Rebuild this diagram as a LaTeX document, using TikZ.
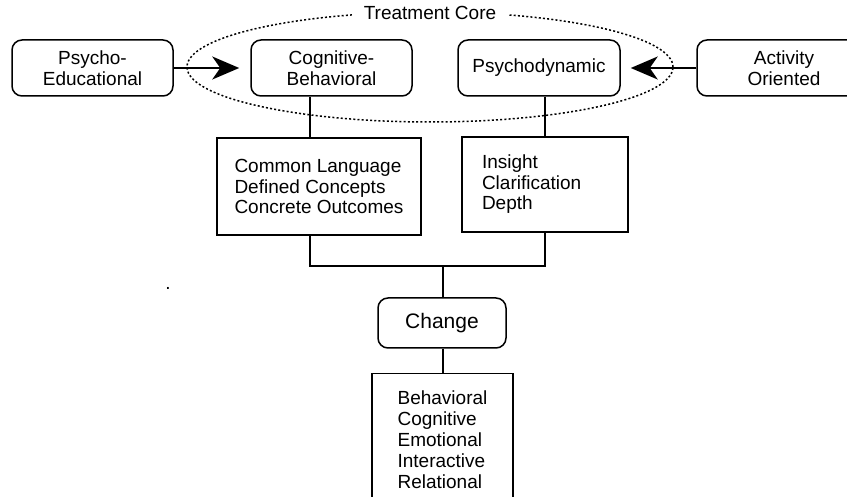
\documentclass[tikz,border=0pt]{standalone}
\usepackage{fontspec}
\setmainfont{Liberation Sans}
\usetikzlibrary{arrows.meta}
\usetikzlibrary{shapes.geometric}

\begin{document}
\begin{tikzpicture}[
    x=1pt, y=-1pt,
    line width=1.5pt,
    every node/.style={
        inner sep=0pt,
        font=\fontsize{19}{20.5}\selectfont
    },
    roundbox/.style={
        draw,
        rounded corners=10pt,
        align=center,
        minimum width=161pt,
        minimum height=56pt
    },
    listbox/.style={
        draw,
        align=left
    },
    bigarrow/.style={
        -{Stealth[length=27pt,width=23pt,inset=8pt]},
        line width=2pt
    },
    coreline/.style={
        draw,
        ellipse,
        line width=1.5pt,
        dash pattern=on 2pt off 2.2pt
    }
]
\useasboundingbox (0,0) rectangle (847,497);
\clip (0,0) rectangle (847,497);

%---------------------------------
% Treatment core
%---------------------------------
\node[coreline, minimum width=486pt, minimum height=110pt] (corering) at (430,67) {};
\node[fill=white, inner xsep=12pt, inner ysep=3pt] (corelabel) at (430,13) {Treatment Core};

%---------------------------------
% Nodes
%---------------------------------

% Top row
\node[roundbox] (psy) at ( 92.5,68) {Psycho-\\Educational};
\node[roundbox] (cog) at (331.5,68) {Cognitive-\\Behavioral};
\node[roundbox, minimum width=162pt] (dyn) at (539,68) {Psychodynamic};
\node[roundbox, minimum width=174pt] (act) at (784,68) {Activity\\Oriented};

% Middle row
\node[listbox, minimum width=204pt, minimum height=97pt] (com) at (319,186.5)
    {Common Language\\Defined Concepts\\Concrete Outcomes};
\node[listbox, text width=126pt, inner xsep=20pt, minimum height=95pt] (ins) at (545,184.5)
    {Insight\\Clarification\\Depth};

% Change
\node[roundbox, minimum width=128pt, minimum height=50pt,
      font=\fontsize{21}{22}\selectfont] (chg) at (442,323) {Change};
\node[listbox, minimum width=141pt, minimum height=132pt, anchor=north,
      font=\fontsize{19}{21}\selectfont] (out) at (442.5,373)
    {Behavioral\\Cognitive\\Emotional\\Interactive\\Relational};

% stray mark
\node (stray) at (168,288) {.};

% Junctions
\coordinate (jl) at (310,266);
\coordinate (jm) at (443,266);
\coordinate (jr) at (545,266);

%---------------------------------
% Arrows into the core
%---------------------------------
\draw[bigarrow, shorten >=11pt] (psy) -- (cog);
\draw[bigarrow, shorten >=10pt] (act) -- (dyn);

%---------------------------------
% Lines down to change
%---------------------------------
\draw (cog.south -| jl) -- (com.north -| jl);
\draw (dyn.south -| jr) -- (ins.north);
\draw (com.south -| jl) -- (jl) -- (jr) -- (ins.south);
\draw (jm) -- (chg.north -| jm);
\draw (chg.south -| jm) -- (out.north -| jm);

\end{tikzpicture}
\end{document}
